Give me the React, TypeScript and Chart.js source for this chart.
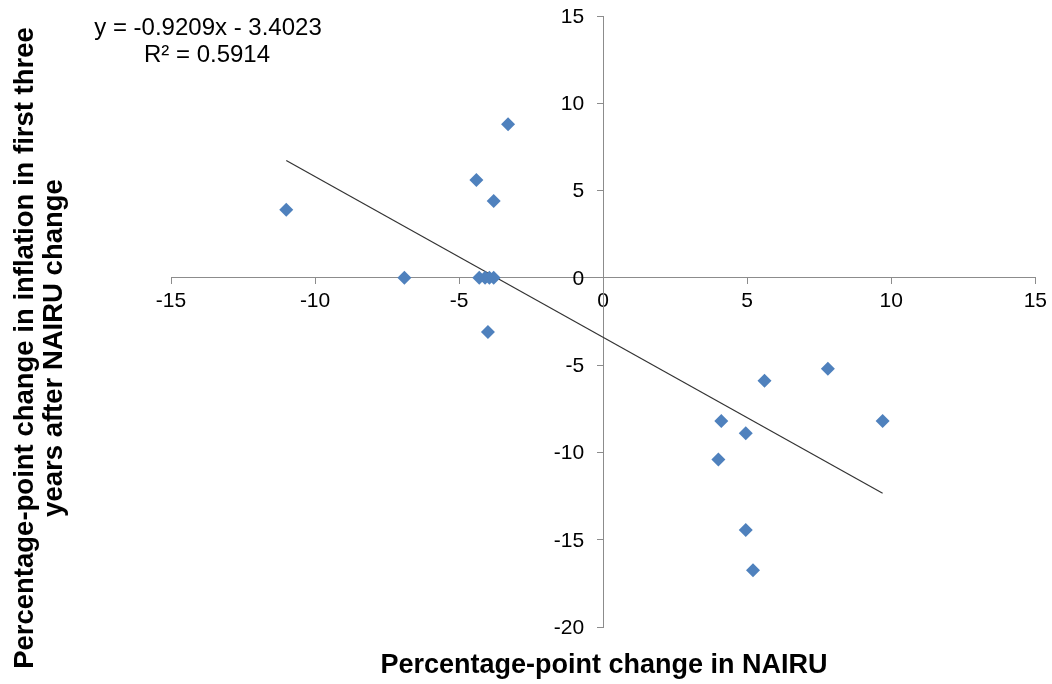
import React, { useEffect, useRef } from "react";
import { Chart, registerables } from "chart.js";

Chart.register(...registerables);

// NAIRU change (x) vs inflation change (y)
const xValues = [-11.0, -6.9, -4.4, -3.3, -3.8, -4.3, -4.1, -3.95, -3.8, -4.0, 5.6, 7.8, 9.7, 4.1, 4.95, 4.0, 4.95, 5.2];
const yValues = [3.9, 0, 5.6, 8.8, 4.4, 0, 0, 0, 0, -3.1, -5.9, -5.2, -8.2, -8.2, -8.9, -10.4, -14.45, -16.75];

const trendSlope = -0.9209;
const trendIntercept = -3.4023;
const equationLines = ["y = -0.9209x - 3.4023", "R² = 0.5914"];

const xTickValues = [-15, -10, -5, 0, 5, 10, 15];
const yTickValues = [-20, -15, -10, -5, 0, 5, 10, 15];

const xTitle = "Percentage-point change in NAIRU";
const yTitleLines = ["Percentage-point change in inflation in first three", "years after NAIRU change"];

const FONT = "'Liberation Sans', Arial, sans-serif";
const W = 1052;
const H = 684;

export default function App() {
  const ref = useRef<HTMLCanvasElement | null>(null);

  useEffect(() => {
    document.body.style.margin = "0";
    if (!ref.current) return;
    const points = xValues.map((x, i) => ({ x, y: yValues[i] }));
    const xMin = Math.min(...xValues);
    const xMax = Math.max(...xValues);
    const trend = [xMin, xMax].map((x) => ({ x, y: trendSlope * x + trendIntercept }));

    const textPlugin = {
      id: "texts",
      afterDraw(chart: any) {
        const ctx = chart.ctx;
        const xs = chart.scales.x;
        const ys = chart.scales.y;
        ctx.save();
        ctx.fillStyle = "#000";

        // y-axis tick labels, placed left of the value-positioned axis
        ctx.font = `21px ${FONT}`;
        ctx.textAlign = "right";
        ctx.textBaseline = "middle";
        const axisX = xs.getPixelForValue(0);
        yTickValues.forEach((v) => {
          ctx.fillText(String(v), axisX - 19, ys.getPixelForValue(v) + 1);
        });

        ctx.textAlign = "center";
        ctx.font = `24px ${FONT}`;
        ctx.fillText(equationLines[0], 208, 28);
        ctx.fillText(equationLines[1], 207, 55);

        ctx.font = `bold 27px ${FONT}`;
        ctx.textBaseline = "alphabetic";
        ctx.fillText(xTitle, 604, 673);

        ctx.font = `bold 27.5px ${FONT}`;
        ctx.translate(0, 348);
        ctx.rotate(-Math.PI / 2);
        ctx.fillText(yTitleLines[0], 0, 33);
        ctx.fillText(yTitleLines[1], 0, 62);
        ctx.restore();
      },
    };

    const axisColor = "#8c8c8c";
    const chart = new Chart(ref.current, {
      type: "scatter",
      data: {
        datasets: [
          {
            label: "data",
            data: points,
            pointStyle: "rectRot",
            pointRadius: 7,
            backgroundColor: "#4F81BD",
            borderColor: "#4F81BD",
            borderWidth: 0,
          },
          {
            label: "trend",
            type: "line",
            data: trend,
            borderColor: "#333333",
            borderWidth: 1.2,
            pointRadius: 0,
            fill: false,
          } as any,
        ],
      },
      options: {
        animation: false,
        responsive: false,
        maintainAspectRatio: false,
        devicePixelRatio: 1,
        layout: { padding: { left: 171, right: 14, top: 16, bottom: 57 } },
        plugins: { legend: { display: false }, tooltip: { enabled: false } },
        scales: {
          x: {
            type: "linear",
            min: -15,
            max: 15,
            position: { y: 0 } as any,
            afterBuildTicks: (s: any) => {
              s.ticks = xTickValues.map((v) => ({ value: v }));
            },
            ticks: {
              autoSkip: false,
              maxRotation: 0,
              color: "#000",
              font: { family: FONT, size: 21 },
              padding: 5,
            },
            grid: { drawOnChartArea: false, drawTicks: true, tickLength: 6, color: axisColor },
            border: { display: true, color: axisColor, width: 1 },
          },
          y: {
            type: "linear",
            min: -20,
            max: 15,
            position: { x: 0 } as any,
            afterBuildTicks: (s: any) => {
              s.ticks = yTickValues.map((v) => ({ value: v }));
            },
            ticks: { display: false },
            grid: { drawOnChartArea: false, drawTicks: true, tickLength: 6, color: axisColor },
            border: { display: true, color: axisColor, width: 1 },
          },
        },
      },
      plugins: [textPlugin],
    });
    return () => chart.destroy();
  }, []);

  return (
    <div style={{ position: "relative", width: W, height: H, overflow: "hidden" }}>
      <canvas ref={ref} width={W} height={H} style={{ display: "block", width: W, height: H }} />
    </div>
  );
}
